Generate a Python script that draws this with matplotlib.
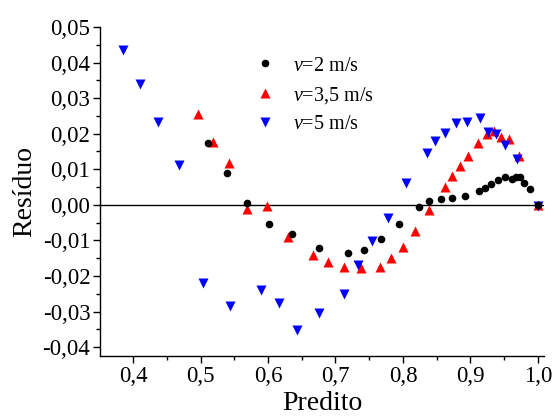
import matplotlib
matplotlib.use("Agg")
import matplotlib.pyplot as plt
from matplotlib.ticker import MultipleLocator, FuncFormatter

plt.rcParams['font.family'] = ['Liberation Serif', 'DejaVu Serif']
plt.rcParams['mathtext.fontset'] = 'custom'
plt.rcParams['mathtext.rm'] = 'Liberation Serif'
plt.rcParams['mathtext.it'] = 'Liberation Serif:italic'

# v = 2 m/s
x_v2 = [0.511, 0.539, 0.569, 0.601, 0.636, 0.676, 0.719, 0.742, 0.767, 0.794,
        0.824, 0.839, 0.856, 0.873, 0.892, 0.913, 0.921, 0.930, 0.941, 0.951,
        0.962, 0.967, 0.973, 0.980, 0.988, 1.000]
y_v2 = [0.0175, 0.0090, 0.0006, -0.0053, -0.0082, -0.0121, -0.0135, -0.0127, -0.0096, -0.0054,
        -0.0005, 0.0011, 0.0017, 0.0020, 0.0025, 0.0040, 0.0048, 0.0059, 0.0070, 0.0079,
        0.0073, 0.0079, 0.0079, 0.0062, 0.0045, 0.0000]

# v = 3,5 m/s
x_v35 = [0.496, 0.519, 0.542, 0.569, 0.598, 0.630, 0.667, 0.689, 0.713, 0.738,
         0.766, 0.782, 0.800, 0.818, 0.839, 0.862, 0.873, 0.884, 0.897, 0.911,
         0.924, 0.935, 0.945, 0.957, 0.972, 1.000]
y_v35 = [0.0254, 0.0177, 0.0118, -0.0011, -0.0003, -0.0090, -0.0141, -0.0160, -0.0175, -0.0178,
         -0.0175, -0.0150, -0.0118, -0.0073, -0.0014, 0.0050, 0.0082, 0.0110, 0.0138, 0.0175,
         0.0200, 0.0208, 0.0192, 0.0186, 0.0138, 0.0000]

# v = 5 m/s
x_v5 = [0.385, 0.410, 0.437, 0.468, 0.504, 0.544, 0.590, 0.616, 0.643, 0.676,
        0.713, 0.733, 0.754, 0.778, 0.804, 0.835, 0.847, 0.862, 0.879, 0.895,
        0.914, 0.926, 0.938, 0.951, 0.969, 1.000]
y_v5 = [0.0434, 0.0340, 0.0234, 0.0113, -0.0220, -0.0284, -0.0240, -0.0275, -0.0352, -0.0303,
        -0.0250, -0.0169, -0.0103, -0.0037, 0.0062, 0.0147, 0.0180, 0.0203, 0.0231, 0.0234,
        0.0245, 0.0206, 0.0200, 0.0169, 0.0130, -0.0002]

labels = ['$v$=2 m/s', '$v$=3,5 m/s', '$v$=5 m/s']

fig = plt.figure(figsize=(5.56, 4.19), dpi=100)
ax = fig.add_axes([100/556, 1-356/419, 444/556, 329/419])

ax.axhline(0, color='black', lw=1.0, zorder=1)
ax.plot(x_v2, y_v2, 'o', color='black', ms=5.5, mec='none', label=labels[0], zorder=3)
ax.plot(x_v35, y_v35, '^', color='red', ms=6.5, mec='none', label=labels[1], zorder=2)
ax.plot(x_v5, y_v5, 'v', color='blue', ms=6.5, mec='none', label=labels[2], zorder=2)

ax.set_xlim(0.351, 1.009)
ax.set_ylim(-0.0425, 0.05)
ax.xaxis.set_major_locator(MultipleLocator(0.1))
ax.xaxis.set_minor_locator(MultipleLocator(0.05))
ax.yaxis.set_major_locator(MultipleLocator(0.01))
ax.yaxis.set_minor_locator(MultipleLocator(0.005))
ax.xaxis.set_major_formatter(FuncFormatter(lambda v, p: f"{v:.1f}".replace('.', ',')))
ax.yaxis.set_major_formatter(FuncFormatter(lambda v, p: f"{v:.2f}".replace('.', ',').replace('-0,00', '0,00')))

for s in ['top', 'right']:
    ax.spines[s].set_visible(False)
for s in ['left', 'bottom']:
    ax.spines[s].set_linewidth(1.0)

ax.tick_params(which='major', direction='out', length=5, width=1.0, labelsize=16.5, pad=2)
ax.tick_params(which='minor', direction='out', length=3, width=1.0)

ax.set_xlabel('Predito', fontsize=20, labelpad=3)
ax.set_ylabel('Resíduo', fontsize=20, labelpad=4)

ax.legend(loc='upper left', bbox_to_anchor=(0.33, 0.935), frameon=False,
          fontsize=14.5, handlelength=1.0, handletextpad=0.9, labelspacing=0.45,
          borderaxespad=0)

fig.savefig('out.png', dpi=100)
